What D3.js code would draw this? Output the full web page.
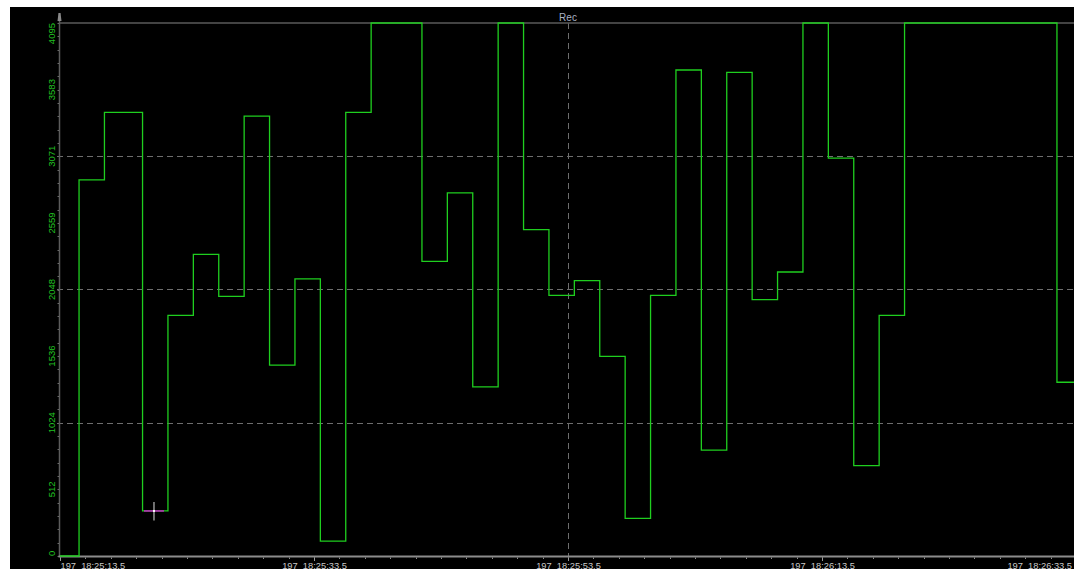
<!DOCTYPE html>
<html><head><meta charset="utf-8">
<script src="https://cdn.jsdelivr.net/npm/d3@7"></script>
<style>
html,body{margin:0;padding:0;background:#fff;overflow:hidden}
svg{display:block}
text{font-family:"Liberation Sans",Arial,sans-serif}
</style></head><body>
<svg id="c" width="1074" height="569"></svg>
<script>
// ---- data ----
const title = "Rec";
const sampleTimes = ["18:25:13.5","18:25:15.0","18:25:17.0","18:25:20.0","18:25:22.0","18:25:24.0","18:25:26.0","18:25:28.0","18:25:30.0","18:25:32.0","18:25:34.0","18:25:36.0","18:25:38.0","18:25:40.0","18:25:42.0","18:25:44.0","18:25:46.0","18:25:48.0","18:25:50.0","18:25:52.0","18:25:54.0","18:25:56.0","18:25:58.0","18:26:00.0","18:26:02.0","18:26:04.0","18:26:06.0","18:26:08.0","18:26:10.0","18:26:12.0","18:26:14.0","18:26:16.0","18:26:18.0","18:26:20.0","18:26:32.0"];
const sampleValues = [0,2890,3409,346,1849,2317,1994,3379,1467,2129,114,3409,4095,4095,2263,2790,1300,4095,2508,2002,2115,1534,289,2002,3734,813,3716,1970,2182,4095,3057,695,1849,4095,1335];
const xDomain = ["18:25:13.5","18:26:33.5"];
const xTickTimes = ["18:25:13.5","18:25:33.5","18:25:53.5","18:26:13.5","18:26:33.5"];
const xTickLabels = ["197  18:25:13.5","197  18:25:33.5","197  18:25:53.5","197  18:26:13.5","197  18:26:33.5"];
const xGridTimes = ["18:25:53.5"];
const yDomain = [0,4095];
const yTickValues = [0,512,1024,1536,2048,2559,3071,3583,4095];
const yTickLabels = ["0","512","1024","1536","2048","2559","3071","3583","4095"];
const yGridValues = [1024,2048,3071];
const cursorTime = "18:25:20.9";
const cursorValue = 346;

// ---- helpers ----
function parseT(s){
  const [h,m,sec] = s.split(":");
  const ms = Math.round(parseFloat(sec)*1000);
  return new Date(2024,0,1,+h,+m,0,ms);
}

const svg = d3.select("#c");
const W = 1074, H = 569;
const L = 60, R = 1076, T = 23, B = 556;

const x = d3.scaleTime().domain(xDomain.map(parseT)).range([L, R]);
const y = d3.scaleLinear().domain(yDomain).range([B, T]);

// background
svg.append("rect").attr("x",10).attr("y",7).attr("width",W-10).attr("height",H-7).attr("fill","#000");

// title
svg.append("text").attr("x", x(parseT(xGridTimes[0]))).attr("y", 20.5)
  .attr("text-anchor","middle").attr("font-size","10px").attr("fill","#a9b0c2").text(title);

// grid
const grid = svg.append("g").attr("stroke","#6e6e6e").attr("stroke-width",1).attr("stroke-dasharray","6,4");
yGridValues.forEach(v=>{
  grid.append("line").attr("x1",57).attr("x2",W).attr("y1",Math.round(y(v))+0.5).attr("y2",Math.round(y(v))+0.5);
});
xGridTimes.forEach(t=>{
  const xx = Math.round(x(parseT(t)))+0.5;
  grid.append("line").attr("x1",xx).attr("x2",xx).attr("y1",T).attr("y2",B);
});

// top border line
svg.append("line").attr("x1",L).attr("x2",W).attr("y1",T).attr("y2",T).attr("stroke","#5a5a5a").attr("stroke-width",1.5);

// y axis
svg.append("line").attr("x1",L-0.5).attr("x2",L-0.5).attr("y1",13).attr("y2",B+1).attr("stroke","#5c5c5c").attr("stroke-width",1.5);
svg.append("path").attr("d",`M${L-1.5},13 L${L+0.5},13 L${L+1.5},21 L${L-2.5},21 Z`).attr("fill","#8a8a8a");
const yMinor = d3.range(0,41).map(i=>yDomain[1]*i/40);
svg.append("g").selectAll("line").data(yMinor).join("line")
  .attr("x1",L-2.5).attr("x2",L-1).attr("y1",d=>Math.round(y(d))+0.5).attr("y2",d=>Math.round(y(d))+0.5)
  .attr("stroke","#6a6a6a").attr("stroke-width",1);
svg.append("g").selectAll("text").data(yTickValues).join("text")
  .attr("transform",d=>`translate(54.5,${y(d)}) rotate(-90)`)
  .attr("text-anchor",(d,i)=> i===0 ? "start" : (i===yTickValues.length-1 ? "end" : "middle"))
  .attr("font-size","9.5px").attr("fill","#22c022")
  .text((d,i)=>yTickLabels[i]);

// x axis
svg.append("line").attr("x1",L-1.5).attr("x2",W).attr("y1",B+0.5).attr("y2",B+0.5).attr("stroke","#8c8c8c").attr("stroke-width",2);
const xt0 = parseT(xTickTimes[0]).getTime(), xt1 = parseT(xTickTimes[1]).getTime();
const minorStep = (xt1-xt0)/10;
const xMinor = d3.range(0,41).map(i=>new Date(xt0+i*minorStep));
svg.append("g").selectAll("line").data(xMinor).join("line")
  .attr("x1",d=>Math.round(x(d))+0.5).attr("x2",d=>Math.round(x(d))+0.5)
  .attr("y1",B+1.5).attr("y2",B+3).attr("stroke","#8c8c8c").attr("stroke-width",1);
svg.append("g").selectAll("line").data(xTickTimes).join("line")
  .attr("x1",d=>Math.round(x(parseT(d)))+0.5).attr("x2",d=>Math.round(x(parseT(d)))+0.5)
  .attr("y1",B+1.5).attr("y2",B+5).attr("stroke","#9a9a9a").attr("stroke-width",1);
svg.append("g").selectAll("text").data(xTickTimes).join("text")
  .attr("x",d=>Math.min(x(parseT(d))+0.5, W-2))
  .attr("y",568.5)
  .attr("text-anchor",(d,i)=> i===0 ? "start" : (i===xTickTimes.length-1 ? "end" : "middle"))
  .attr("font-size","9.3px").attr("fill","#c9c9c9")
  .style("white-space","pre")
  .text((d,i)=>xTickLabels[i]);

// trace
const pts = sampleTimes.map((t,i)=>({t:parseT(t), v:sampleValues[i]}));
pts.push({t:parseT(xDomain[1]), v:sampleValues[sampleValues.length-1]});
svg.append("clipPath").attr("id","clp").append("rect").attr("x",L-1).attr("y",T-2).attr("width",W-L+1).attr("height",B-T+4);
const line = d3.line().x(d=>x(d.t)).y(d=>y(d.v)).curve(d3.curveStepAfter);
svg.append("path").datum(pts).attr("clip-path","url(#clp)")
  .attr("d",line).attr("fill","none").attr("stroke","#1fce1f").attr("stroke-width",1.3);

// cursor marker
const cx = x(parseT(cursorTime)), cy = y(cursorValue);
svg.append("line").attr("x1",cx-10).attr("x2",cx+10).attr("y1",cy).attr("y2",cy).attr("stroke","#d020d0").attr("stroke-width",1.4);
svg.append("line").attr("x1",cx).attr("x2",cx).attr("y1",cy-9).attr("y2",cy+9.5).attr("stroke","#a0a0a0").attr("stroke-width",1.4);
svg.append("rect").attr("x",cx-1).attr("y",cy-1).attr("width",2).attr("height",2).attr("fill","#ffffff");
</script>
</body></html>
